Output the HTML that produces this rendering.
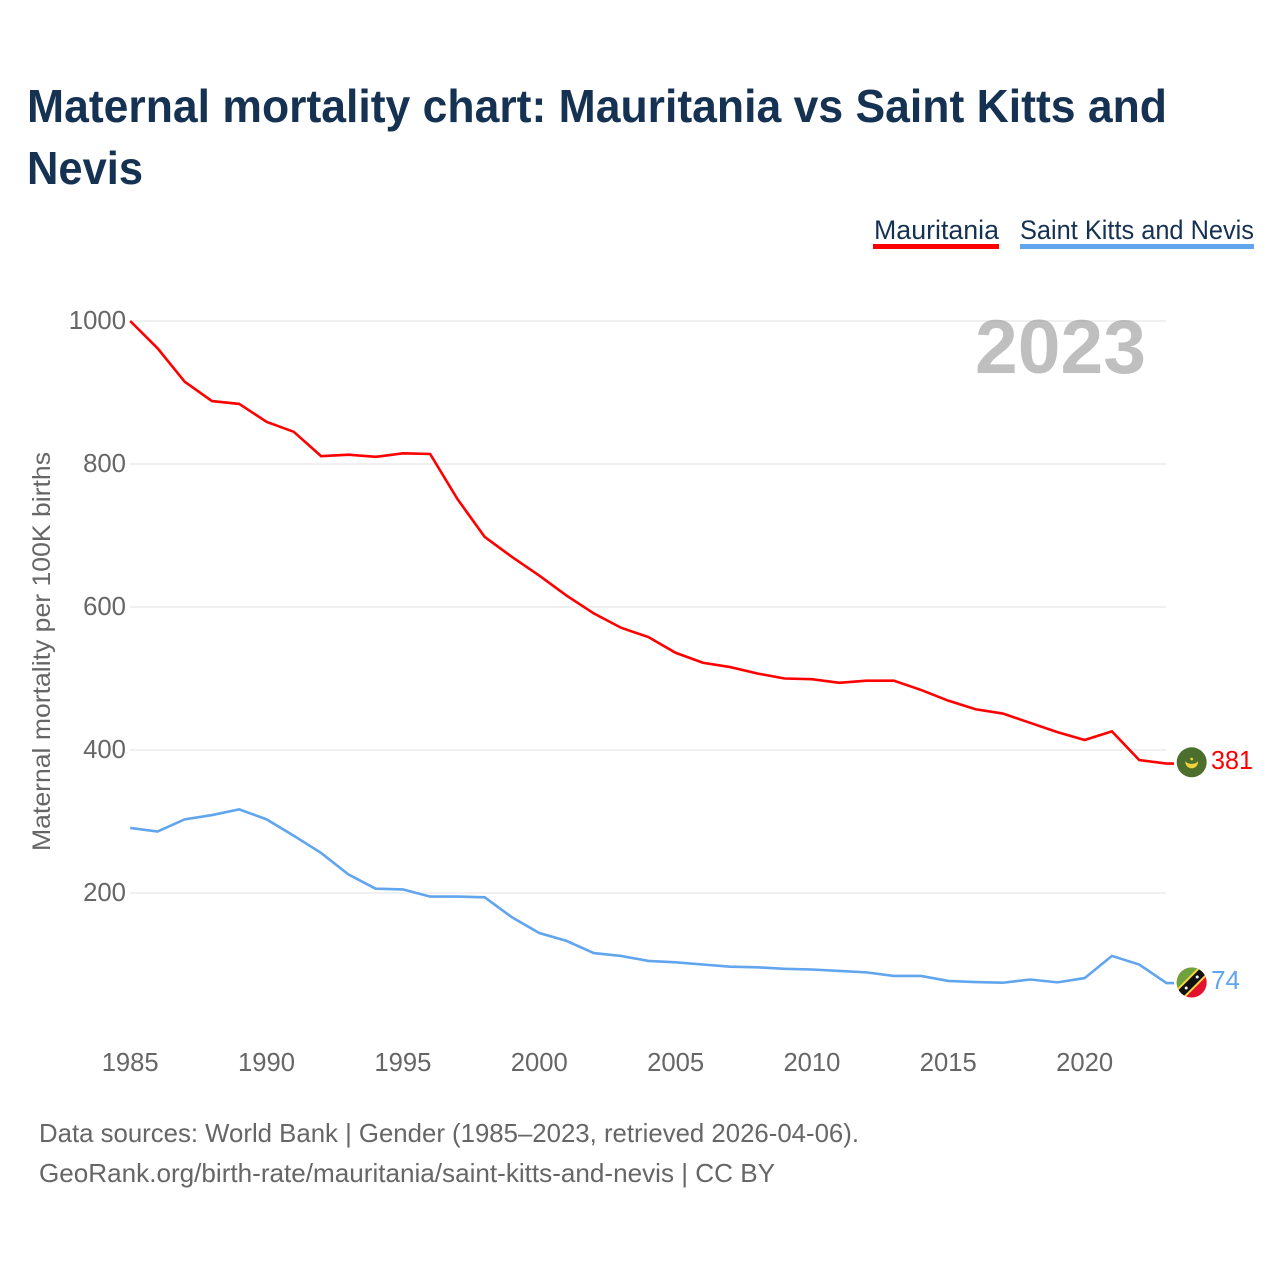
<!DOCTYPE html>
<html lang="en">
<head>
<meta charset="utf-8">
<title>Maternal mortality chart: Mauritania vs Saint Kitts and Nevis</title>
<style>
html,body{margin:0;padding:0;background:#fff;}
svg{display:block;}
text{font-family:"Liberation Sans",sans-serif;}
</style>
</head>
<body>
<svg id="chart" xmlns="http://www.w3.org/2000/svg" width="1280" height="1280" viewBox="0 0 1280 1280">
  <rect x="0" y="0" width="1280" height="1280" fill="#ffffff"/>
  <text x="27" y="122" font-size="46" font-weight="700" fill="#163253" textLength="1140" lengthAdjust="spacingAndGlyphs">Maternal mortality chart: Mauritania vs Saint Kitts and</text>
  <text x="27" y="184" font-size="46" font-weight="700" fill="#163253" textLength="116" lengthAdjust="spacingAndGlyphs">Nevis</text>

  <g>
    <text x="874" y="239" font-size="27" fill="#163253" textLength="125" lengthAdjust="spacingAndGlyphs">Mauritania</text>
    <rect x="873" y="244" width="126" height="5" fill="#ff0000"/>
  </g>
  <g>
    <text x="1020" y="239" font-size="27" fill="#163253" textLength="234" lengthAdjust="spacingAndGlyphs">Saint Kitts and Nevis</text>
    <rect x="1020" y="244" width="234" height="5" fill="#60a5ee"/>
  </g>

  <g id="grid"></g>
  <g id="yTicks"></g>
  <g id="xTicks"></g>
  <text transform="translate(50,851) rotate(-90)" font-size="25" fill="#666666" textLength="399" lengthAdjust="spacingAndGlyphs">Maternal mortality per 100K births</text>
  <text x="975" y="373" font-size="76" font-weight="700" fill="#808080" fill-opacity="0.5" textLength="171" lengthAdjust="spacingAndGlyphs">2023</text>

  <g id="series"></g>

  <defs>
    <clipPath id="flagClipMr"><circle cx="1191.7" cy="762.3" r="15"/></clipPath>
    <clipPath id="flagClipKn"><circle cx="1191.7" cy="982.5" r="15"/></clipPath>
  </defs>
  <g clip-path="url(#flagClipMr)">
    <rect x="1176" y="747" width="32" height="32" fill="#4c6f2e"/>
    <path d="M1185.7 762 A6 6 0 0 0 1197.7 762 A7 4.5 0 0 1 1185.7 762 Z" fill="#f2d23c" stroke="#f2d23c" stroke-width="0.6"/>
    <circle cx="1191.7" cy="759" r="1.4" fill="#f2d23c"/>
  </g>
  <g clip-path="url(#flagClipKn)">
    <rect x="1176" y="967" width="32" height="32" fill="#e2132f"/>
    <polygon points="1176,967 1207.5,967 1176,998.5" fill="#6fa23c"/>
    <line x1="1172" y1="1002.2" x2="1211.4" y2="962.8" stroke="#f7d83c" stroke-width="12"/>
    <line x1="1172" y1="1002.2" x2="1211.4" y2="962.8" stroke="#111111" stroke-width="8"/>
    <circle cx="1186.2" cy="988" r="1.5" fill="#ffffff"/>
    <circle cx="1197.2" cy="977" r="1.5" fill="#ffffff"/>
  </g>

  <text x="1211" y="769" font-size="26" fill="#ff0000" textLength="42" lengthAdjust="spacingAndGlyphs">381</text>
  <text x="1211" y="989" font-size="26" fill="#60a5ee" textLength="29" lengthAdjust="spacingAndGlyphs">74</text>

  <text x="39" y="1142" font-size="26" fill="#666666" textLength="820" lengthAdjust="spacingAndGlyphs">Data sources: World Bank | Gender (1985–2023, retrieved 2026-04-06).</text>
  <text x="39" y="1182" font-size="26" fill="#666666" textLength="736" lengthAdjust="spacingAndGlyphs">GeoRank.org/birth-rate/mauritania/saint-kitts-and-nevis | CC BY</text>
</svg>
<script>
const years = [1985,1986,1987,1988,1989,1990,1991,1992,1993,1994,1995,1996,1997,1998,1999,2000,2001,2002,2003,2004,2005,2006,2007,2008,2009,2010,2011,2012,2013,2014,2015,2016,2017,2018,2019,2020,2021,2022,2023];
const mauritania = [1000,962,915,888,884,859,845,811,813,810,815,814,751,698,670,644,616,591,571,558,536,522,516,507,500,499,494,497,497,484,469,457,451,438,425,414,426,386,381];
const saintKitts = [291,286,303,309,317,303,280,256,226,206,205,195,195,194,166,144,133,116,112,105,103,100,97,96,94,93,91,89,84,84,77,75.5,74.5,79,75,81,112,100,74];
const yTickValues = [200,400,600,800,1000];
const xTickValues = [1985,1990,1995,2000,2005,2010,2015,2020];

const NS = 'http://www.w3.org/2000/svg';
const xScale = function (year) { return 130.2 + (year - 1985) * 27.27; };
const yScale = function (value) { return 1036 - value * 0.715; };

const grid = document.getElementById('grid');
const yTicks = document.getElementById('yTicks');
const xTicks = document.getElementById('xTicks');
const series = document.getElementById('series');

yTickValues.forEach(function (v) {
  const l = document.createElementNS(NS, 'line');
  
  
  l.setAttribute('x1', 130);
  l.setAttribute('x2', 1166);
  l.setAttribute('y1', yScale(v));
  l.setAttribute('y2', yScale(v));
  l.setAttribute('stroke', '#f0f0f0');
  l.setAttribute('stroke-width', 2);
  grid.appendChild(l);

  const t = document.createElementNS(NS, 'text');
  
  
  t.setAttribute('x', 126);
  t.setAttribute('y', yScale(v) + 8);
  t.setAttribute('text-anchor', 'end');
  t.setAttribute('font-size', 26);
  t.setAttribute('fill', '#666666');
  t.setAttribute('textLength', String(v).length * 14.3);
  t.setAttribute('lengthAdjust', 'spacingAndGlyphs');
  t.textContent = v;
  yTicks.appendChild(t);
});

xTickValues.forEach(function (y) {
  const t = document.createElementNS(NS, 'text');
  
  
  t.setAttribute('x', xScale(y));
  t.setAttribute('y', 1071);
  t.setAttribute('text-anchor', 'middle');
  t.setAttribute('font-size', 26);
  t.setAttribute('fill', '#666666');
  t.setAttribute('textLength', 57);
  t.setAttribute('lengthAdjust', 'spacingAndGlyphs');
  t.textContent = y;
  xTicks.appendChild(t);
});

function linePoints(values) {
  const pts = values.map(function (v, i) { return xScale(years[i]) + ',' + yScale(v); });
  pts.push('1174,' + yScale(values[values.length - 1]));
  return pts.join(' ');
}

const lineMr = document.createElementNS(NS, 'polyline');


lineMr.setAttribute('points', linePoints(mauritania));
lineMr.setAttribute('fill', 'none');
lineMr.setAttribute('stroke', '#ff0000');
lineMr.setAttribute('stroke-width', 2.6);
series.appendChild(lineMr);

const lineKn = document.createElementNS(NS, 'polyline');


lineKn.setAttribute('points', linePoints(saintKitts));
lineKn.setAttribute('fill', 'none');
lineKn.setAttribute('stroke', '#60a5ee');
lineKn.setAttribute('stroke-width', 2.6);
series.appendChild(lineKn);
</script>
</body>
</html>
